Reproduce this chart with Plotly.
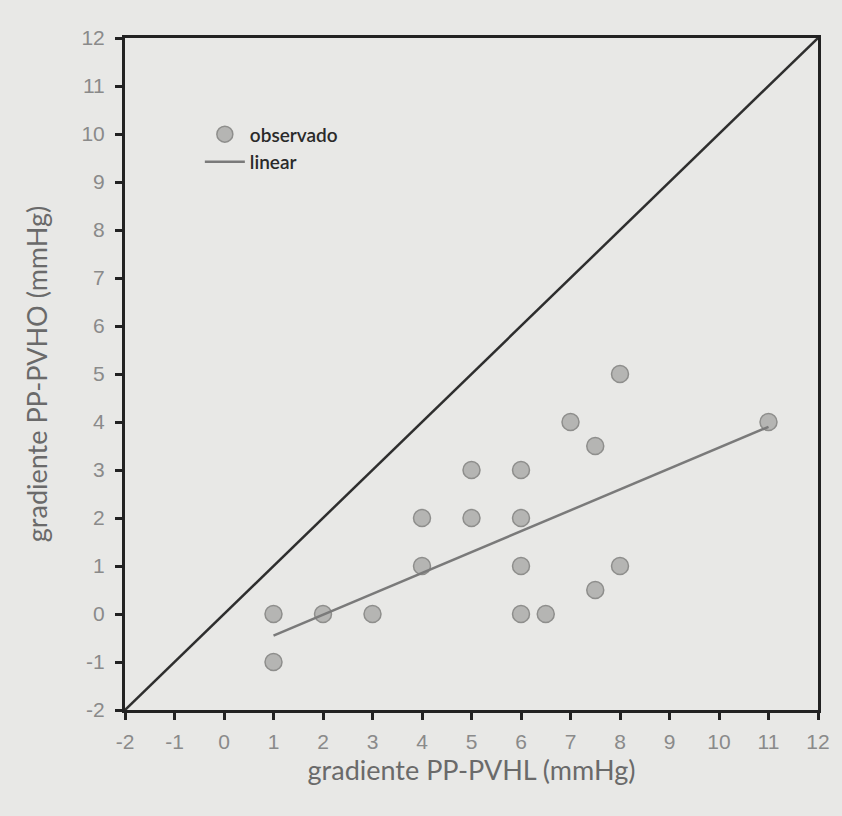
import plotly.graph_objects as go

obs_x = [1, 1, 2, 3, 4, 4, 5, 5, 6, 6, 6, 6, 6.5, 7, 7.5, 7.5, 8, 8, 11]
obs_y = [0, -1, 0, 0, 2, 1, 3, 2, 3, 2, 1, 0, 0, 4, 3.5, 0.5, 5, 1, 4]
fit_x = [1, 11]
fit_y = [-0.45, 3.9]
diag_x = [-2, 12]
diag_y = [-2, 12]
tick_vals = list(range(-2, 13))

fig = go.Figure()
fig.add_trace(go.Scatter(x=diag_x, y=diag_y, mode="lines",
                         line=dict(color="#2e2e2e", width=2.5),
                         showlegend=False, hoverinfo="skip"))
fig.add_trace(go.Scatter(x=obs_x, y=obs_y, mode="markers", name="observado",
                         marker=dict(size=17, color="#b5b5b3",
                                     line=dict(color="#8e8e8c", width=1.5))))
fig.add_trace(go.Scatter(x=fit_x, y=fit_y, mode="lines", name="linear",
                         line=dict(color="#7a7a7a", width=2.5)))

axis_common = dict(
    range=[-2, 12], tickmode="array", tickvals=tick_vals,
    ticktext=[str(v) for v in tick_vals],
    showgrid=False, zeroline=False,
    showline=True, linecolor="#222222", linewidth=3, mirror=True,
    ticks="outside", ticklen=7, tickwidth=3, tickcolor="#222222",
    tickfont=dict(family="Liberation Sans Narrow, Arial Narrow, sans-serif",
                  size=21, color="#8a8a8a"),
)

fig.update_layout(
    width=842, height=816,
    margin=dict(l=125, r=18, t=38, b=106),
    paper_bgcolor="#e8e8e6", plot_bgcolor="#e8e8e6",
    xaxis=dict(**axis_common, ticklabelstandoff=4,
               title=dict(text="gradiente PP-PVHL (mmHg)", standoff=9,
                          font=dict(family="Lato, sans-serif", size=27, color="#6a6a6a"))),
    yaxis=dict(**axis_common, ticklabelstandoff=6,
               title=dict(text="gradiente PP-PVHO (mmHg)", standoff=26,
                          font=dict(family="Lato, sans-serif", size=27, color="#6a6a6a"))),
    legend=dict(x=0.108, y=0.885, xanchor="left", yanchor="top",
                bgcolor="rgba(0,0,0,0)",
                font=dict(family="Lato, sans-serif", size=19, color="#2a2a2a", weight=600),
                itemwidth=40, tracegroupgap=2),
    showlegend=True,
)

fig.write_html("out.html")
